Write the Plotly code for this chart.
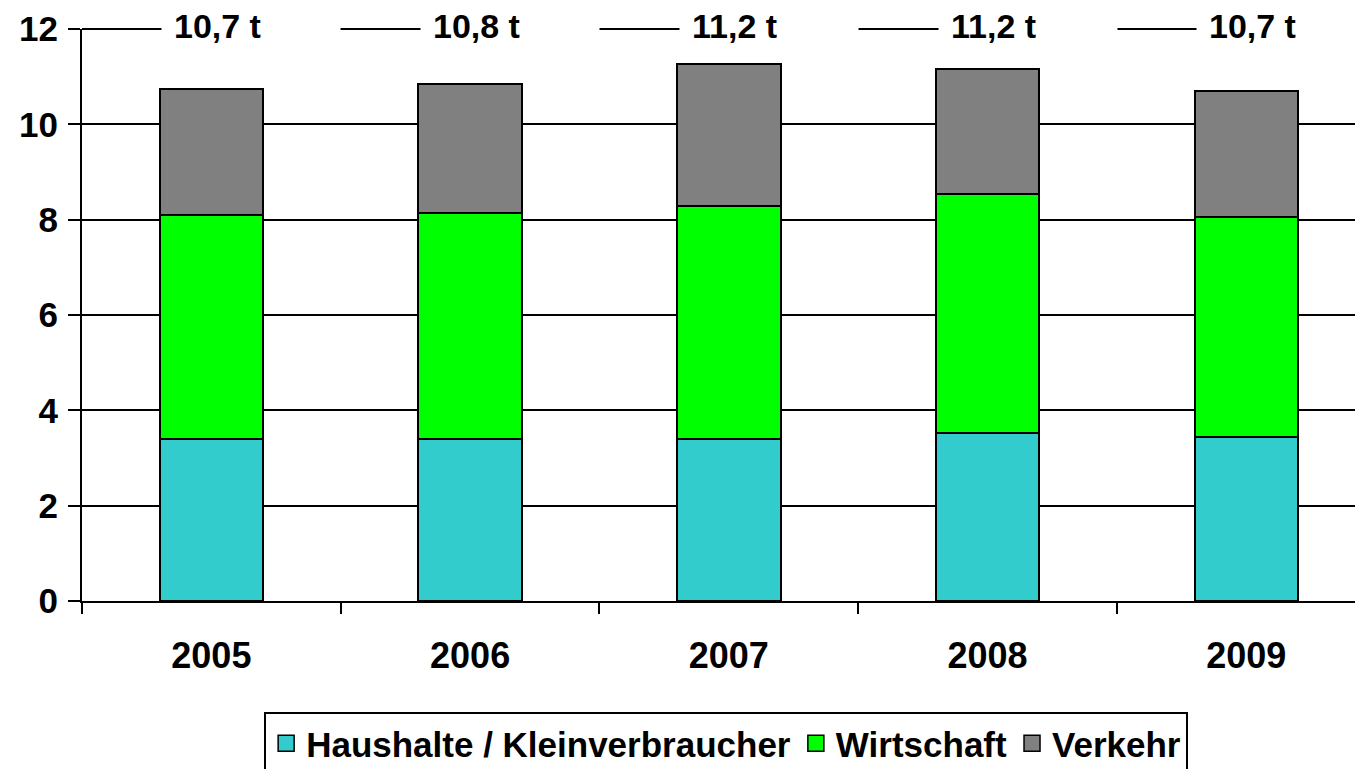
import plotly.graph_objects as go

years = ["2005", "2006", "2007", "2008", "2009"]
haushalte = [3.39, 3.39, 3.39, 3.53, 3.44]
wirtschaft = [4.71, 4.76, 4.90, 5.00, 4.61]
verkehr = [2.64, 2.70, 2.97, 2.64, 2.65]
total_labels = ["10,7 t", "10,8 t", "11,2 t", "11,2 t", "10,7 t"]
series_names = ["Haushalte / Kleinverbraucher", "Wirtschaft", "Verkehr"]
colors = ["#33CCCC", "#00FF00", "#808080"]

FONT = "Liberation Sans, Arial, sans-serif"
X_RANGE = [-0.5, 4.42]

fig = go.Figure()
for name, vals, col in zip(series_names, [haushalte, wirtschaft, verkehr], colors):
    fig.add_trace(go.Bar(
        x=years, y=vals, name=name, showlegend=False,
        marker=dict(color=col, line=dict(color="black", width=2)),
        width=0.4,
    ))
# legend entries with larger square symbols
for name, col in zip(series_names, colors):
    fig.add_trace(go.Scatter(
        x=[None], y=[None], mode="markers", name=name,
        marker=dict(symbol="square", size=16, color=col,
                    line=dict(color="black", width=1.5)),
    ))

# top gridline (y = 12) drawn explicitly
fig.add_shape(type="line", xref="paper", x0=0, x1=1, yref="paper", y0=1, y1=1,
              line=dict(color="black", width=2), layer="above")

# total labels: positioned at each category's index on the axis
for i, lab in enumerate(total_labels):
    frac = (i - X_RANGE[0]) / (X_RANGE[1] - X_RANGE[0])
    fig.add_annotation(
        x=frac, y=1, xref="paper", yref="paper", text="<b>" + lab + "</b>",
        showarrow=False, xanchor="left", yanchor="middle", xshift=-50, yshift=3,
        width=154, align="left", bgcolor="white", borderpad=12,
        font=dict(family=FONT, size=34, color="black"),
    )

fig.update_layout(
    width=1355, height=769,
    margin=dict(l=82, r=0, t=29, b=168, autoexpand=False),
    plot_bgcolor="white", paper_bgcolor="white",
    barmode="stack",
    font=dict(family=FONT, color="black"),
    showlegend=True,
    legend=dict(
        orientation="h", x=0.506, xanchor="center", y=-0.194, yanchor="top",
        bordercolor="black", borderwidth=2, bgcolor="white",
        traceorder="normal",
        font=dict(family=FONT, size=35, color="black", weight="bold"),
        itemclick=False,
    ),
)
fig.update_xaxes(
    type="category", range=X_RANGE,
    showline=True, linecolor="black", linewidth=2,
    ticks="outside", tickson="boundaries", ticklen=11, tickwidth=2, tickcolor="black",
    showgrid=False,
    tickfont=dict(family=FONT, size=36, color="black", weight="bold"),
    ticklabelstandoff=22,
)
fig.update_yaxes(
    range=[0, 12], dtick=2,
    showline=True, linecolor="black", linewidth=2,
    ticks="outside", ticklen=12, tickwidth=2, tickcolor="black",
    showgrid=True, gridcolor="black", gridwidth=2,
    zeroline=False,
    tickfont=dict(family=FONT, size=35, color="black", weight="bold"),
    ticklabelstandoff=3,
)

fig.write_html("out.html", config={"displayModeBar": False},
               post_script="document.body.style.margin='0';document.body.style.overflow='hidden';")
